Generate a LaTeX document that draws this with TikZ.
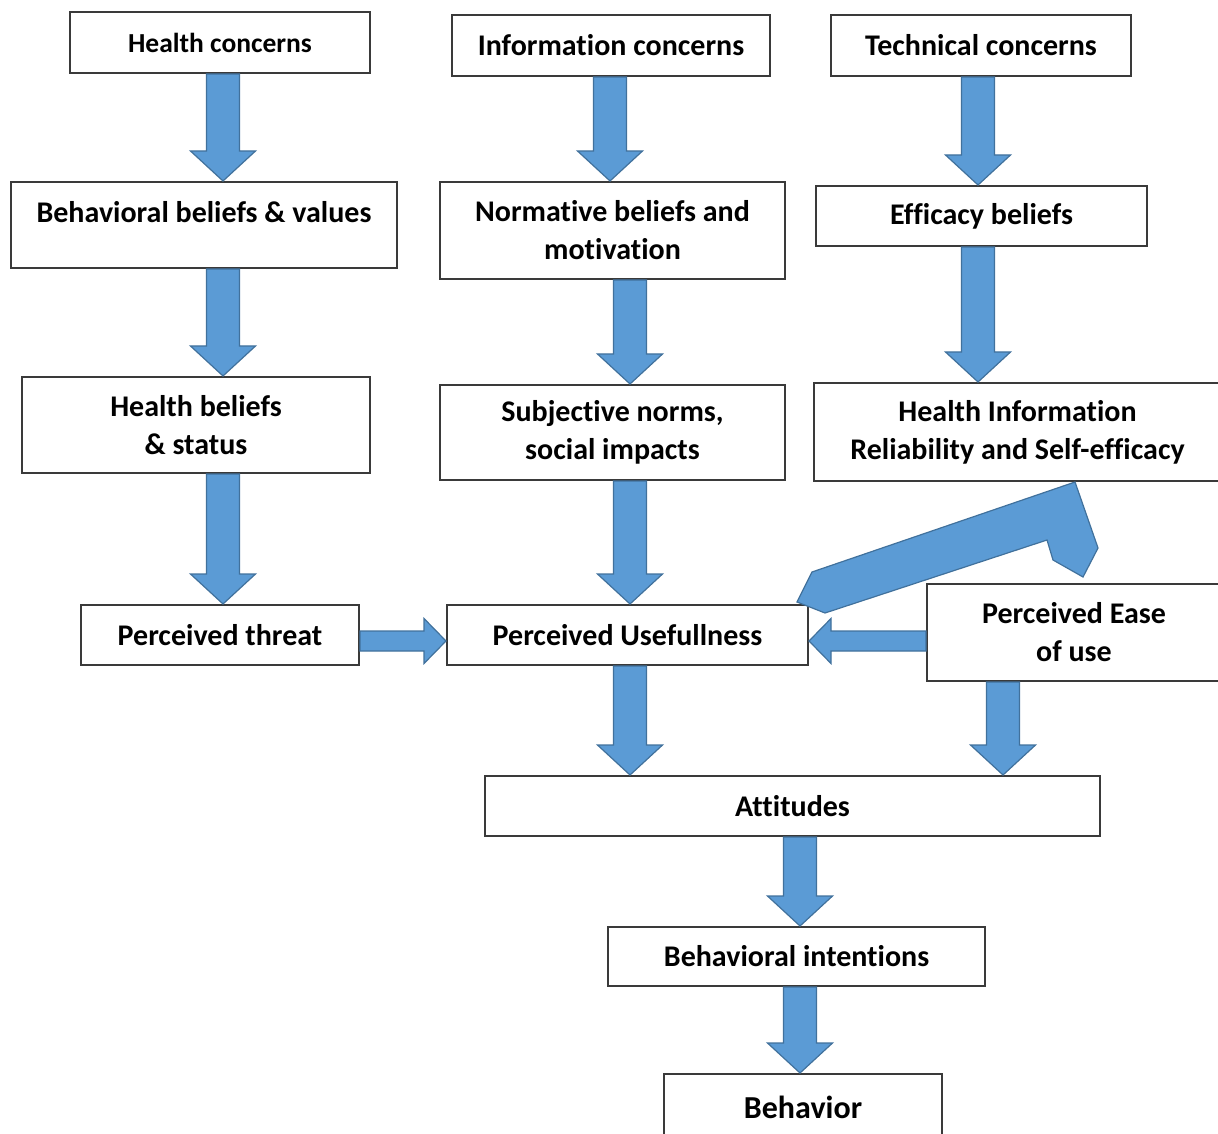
\documentclass[tikz,border=0pt]{standalone}
\usepackage{fontspec}
\setmainfont{Carlito}[Ligatures=NoCommon]
\usepackage{tikz}
\usetikzlibrary{calc}

\definecolor{arrowblue}{HTML}{5B9BD5}
\definecolor{arrowedge}{HTML}{41719C}
\definecolor{boxedge}{HTML}{3A3A3A}

\begin{document}
\begin{tikzpicture}[x=0.5pt,y=-0.5pt,
    b/.style={draw=boxedge,line width=1pt,fill=white,inner sep=0pt,align=center,
      font=\fontsize{15}{19}\selectfont\bfseries},
    blk/.style={draw=arrowedge,fill=arrowblue,line width=0.6pt,
      to path={($(\tikztostart)!\shw!90:(\tikztotarget)$)
        -- ($(\tikztotarget)!\hdl!(\tikztostart)!\shw!90:(\tikztotarget)$)
        -- ($(\tikztotarget)!\hdl!(\tikztostart)!\hdw!90:(\tikztotarget)$)
        -- (\tikztotarget)
        -- ($(\tikztotarget)!\hdl!(\tikztostart)!\hdw!-90:(\tikztotarget)$)
        -- ($(\tikztotarget)!\hdl!(\tikztostart)!\shw!-90:(\tikztotarget)$)
        -- ($(\tikztostart)!\shw!-90:(\tikztotarget)$) -- cycle}},
    vblk/.style={blk,/utils/exec={\def\shw{8.25pt}\def\hdw{16.25pt}\def\hdl{15pt}}},
    hblk/.style={blk,/utils/exec={\def\shw{5pt}\def\hdw{11.25pt}\def\hdl{11pt}}}]
    \useasboundingbox (0,0) rectangle (1218,1133);

    \node[b,minimum width=150pt,minimum height=30.5pt,font=\fontsize{13.75}{17}\selectfont\bfseries] (hc) at (220,42.5) {Health concerns};
    \node[b,minimum width=159pt,minimum height=30.5pt] (ic) at (611,45.5) {Information concerns};
    \node[b,minimum width=150pt,minimum height=30.5pt] (tc) at (981,45.5) {Technical concerns};

    \node[b,minimum width=193pt,minimum height=43pt,text depth=13pt] (bb) at (204,225) {Behavioral beliefs \& values};
    \node[b,minimum width=172.5pt,minimum height=48.5pt] (nb) at (612.5,230.5) {Normative beliefs and\\motivation};
    \node[b,minimum width=165.5pt,minimum height=30pt] (eb) at (981.5,216) {Efficacy beliefs};

    \node[b,minimum width=174pt,minimum height=48pt] (hb) at (196,425) {Health beliefs\\\& status};
    \node[b,minimum width=172.5pt,minimum height=47.5pt] (sn) at (612.5,432.5) {Subjective norms,\\social impacts};
    \node[b,minimum width=203.5pt,minimum height=49pt] (hi) at (1017.5,432) {Health Information\\Reliability and Self-efficacy};

    \node[b,minimum width=139pt,minimum height=30pt] (pt) at (220,635) {Perceived threat};
    \node[b,minimum width=180.5pt,minimum height=30pt] (pu) at (627.5,635) {Perceived Usefullness};
    \node[b,minimum width=147pt,minimum height=48.5pt] (pe) at (1074,632.5) {Perceived Ease\\of use};

    \node[b,minimum width=307.5pt,minimum height=30pt] (at) at (792.5,806) {Attitudes};
    \node[b,minimum width=188.5pt,minimum height=29.5pt] (bi) at (796.5,956.5) {Behavioral intentions};
    \node[b,minimum width=139pt,minimum height=33pt,font=\fontsize{16}{19}\selectfont\bfseries] (bh) at (803,1107) {Behavior};

    % columns of the block arrows
    \coordinate (ca) at (223,0);
    \coordinate (cb) at (610,0);
    \coordinate (cc) at (630,0);
    \coordinate (cd) at (978,0);
    \coordinate (ce) at (1003,0);
    \coordinate (cf) at (800,0);
    \coordinate (ra) at (0,641);

    \draw[vblk] (ca |- hc.south) to (ca |- bb.north);
    \draw[vblk] (ca |- bb.south) to (ca |- hb.north);
    \draw[vblk] (ca |- hb.south) to (ca |- pt.north);
    \draw[vblk] (cb |- ic.south) to (cb |- nb.north);
    \draw[vblk] (cc |- nb.south) to (cc |- sn.north);
    \draw[vblk] (cc |- sn.south) to (cc |- pu.north);
    \draw[vblk] (cd |- tc.south) to (cd |- eb.north);
    \draw[vblk] (cd |- eb.south) to (cd |- hi.north);
    \draw[vblk] (cc |- pu.south) to (cc |- at.north);
    \draw[vblk] (ce |- pe.south) to (ce |- at.north);
    \draw[vblk] (cf |- at.south) to (cf |- bi.north);
    \draw[vblk] (cf |- bi.south) to (cf |- bh.north);

    \draw[hblk] (pt.east |- ra) to (pu.west |- ra);
    \draw[hblk] (pe.west |- ra) to (pu.east |- ra);

    % bent arrow from hi down to pu
    \draw[draw=arrowedge,fill=arrowblue,line width=0.6pt]
      (1075,482) -- (1098,548) -- (1083,577) -- (1053,560) -- (1047,540)
      -- (825,613) -- (797,602) -- (812,572) -- cycle;
\end{tikzpicture}
\end{document}
